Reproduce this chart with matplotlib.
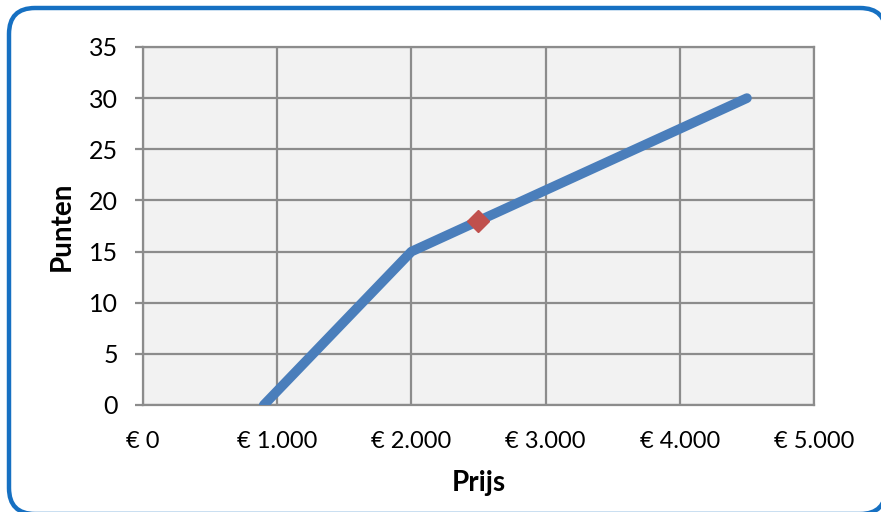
import matplotlib
matplotlib.use("Agg")
import matplotlib.pyplot as plt
import matplotlib.patches as mpatches

# Data
prijs = [900, 2000, 4500]
punten = [0, 15, 30]
marker_x = [2500]
marker_y = [18]
x_ticks = [0, 1000, 2000, 3000, 4000, 5000]
x_labels = ["€ 0", "€ 1.000", "€ 2.000", "€ 3.000", "€ 4.000", "€ 5.000"]
y_ticks = [0, 5, 10, 15, 20, 25, 30, 35]

plt.rcParams['font.family'] = ['Lato', 'DejaVu Sans']

W, H = 881, 512
fig = plt.figure(figsize=(W / 100, H / 100), dpi=100)

# background frame axes in pixel coordinates
bg = fig.add_axes([0, 0, 1, 1], zorder=0)
bg.set_xlim(0, W)
bg.set_ylim(H, 0)
bg.axis('off')
frame = mpatches.FancyBboxPatch((9, 8), 877, 506,
                                boxstyle="round,pad=0,rounding_size=26",
                                linewidth=3.2, edgecolor='#1670c2',
                                facecolor='white', clip_on=False)
bg.add_patch(frame)

ax = fig.add_axes([143 / W, 1 - 405 / H, (814 - 143) / W, (405 - 47) / H], zorder=1)
ax.set_facecolor('#f2f2f2')
ax.set_xlim(0, 5000)
ax.set_ylim(0, 35)

grid_c = '#8c8c8c'
ax.grid(True, color=grid_c, linewidth=1.6)
ax.set_axisbelow(True)
for s in ax.spines.values():
    s.set_color(grid_c)
    s.set_linewidth(1.6)

ax.plot(prijs, punten, color='#4a7ebb', linewidth=7,
        solid_capstyle='round', solid_joinstyle='round', zorder=3)
ax.plot(marker_x, marker_y, linestyle='none', marker='D', markersize=11,
        color='#c0504d', markeredgecolor='#c0504d', zorder=4)

ax.set_xticks(x_ticks)
ax.set_xticklabels(x_labels)
ax.set_yticks(y_ticks)
ax.tick_params(axis='y', length=6, width=1.6, color=grid_c, pad=12,
               labelsize=18, labelcolor='black')
ax.tick_params(axis='x', length=0, pad=19, labelsize=17, labelcolor='black')

ax.set_xlabel('Prijs', fontsize=20, fontweight='bold', labelpad=13)
ax.set_ylabel('Punten', fontsize=20, fontweight='bold', labelpad=10)

fig.savefig('out.png', dpi=100)
